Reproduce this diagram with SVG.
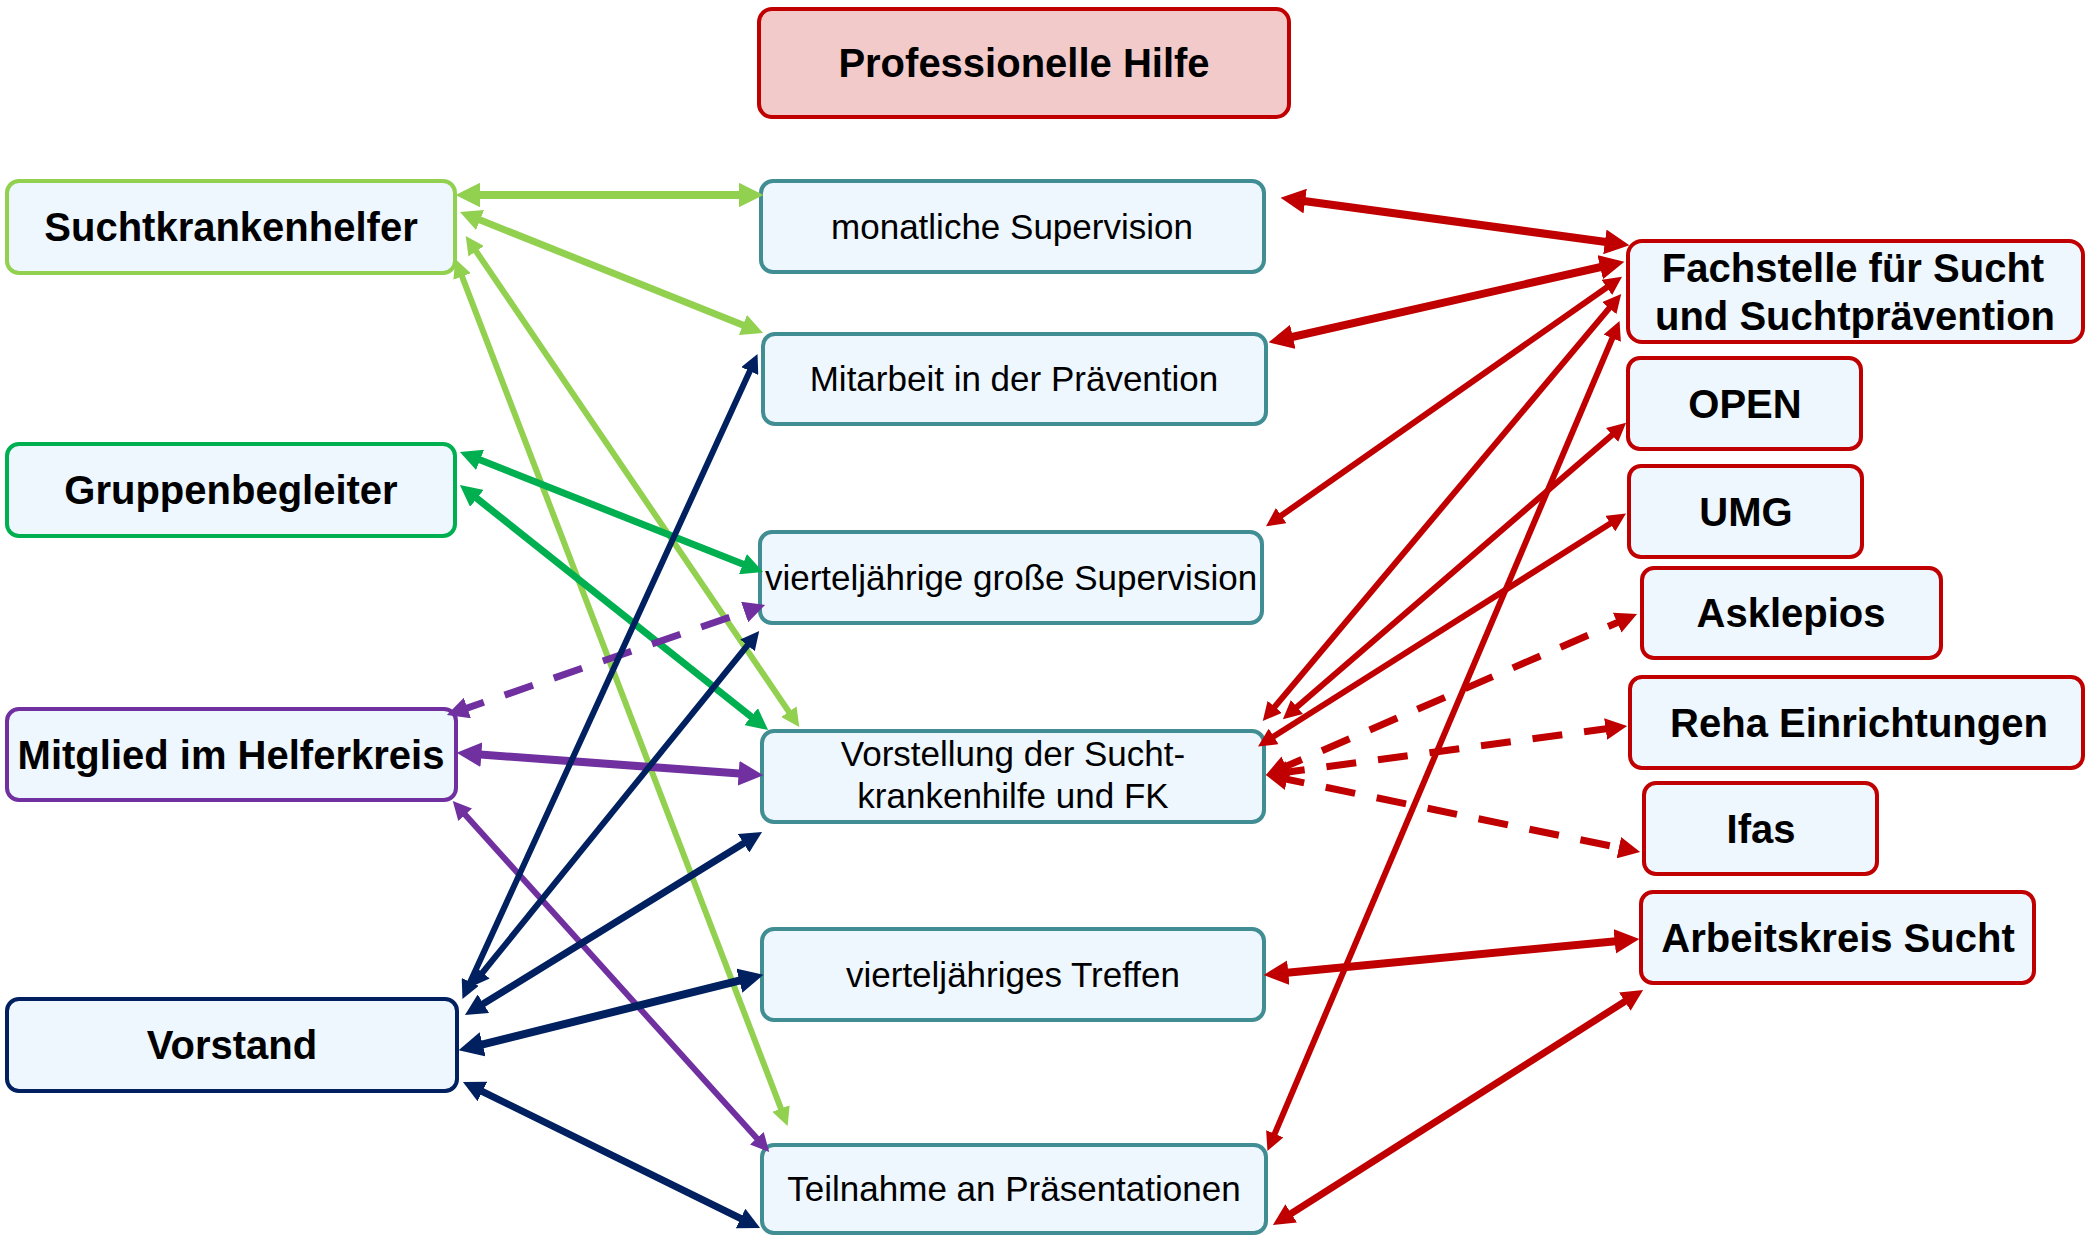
<svg xmlns="http://www.w3.org/2000/svg" width="2085" height="1236" viewBox="0 0 2085 1236">
<style>
.n{fill:#EEF6FE;stroke-width:4}
.teal{stroke:#408E93}
.red{stroke:#C00000}
.lg{stroke:#92D050}
.dg{stroke:#00B050}
.pu{stroke:#7030A0}
.nv{stroke:#002060}
.b{font-family:"Liberation Sans",Arial,sans-serif;font-weight:bold;font-size:40px;fill:#000;text-anchor:middle}
.r{font-family:"Liberation Sans",Arial,sans-serif;font-size:35px;fill:#000;text-anchor:middle}
.e{fill:none;stroke-width:6}
.m{stroke-width:7}
.t{stroke-width:8}
.d{stroke-dasharray:30 22}
.elg{stroke:#92D050;marker-start:url(#mlg);marker-end:url(#mlg)}
.edg{stroke:#00B050;marker-start:url(#mdg);marker-end:url(#mdg)}
.epu{stroke:#7030A0;marker-start:url(#mpu);marker-end:url(#mpu)}
.env{stroke:#002060;marker-start:url(#mnv);marker-end:url(#mnv)}
.ered{stroke:#C00000;marker-start:url(#mred);marker-end:url(#mred)}
</style>
<defs>
<marker id="mlg" viewBox="0 0 10 10" refX="5.8" refY="5" markerWidth="3.1" markerHeight="3.1" orient="auto-start-reverse" markerUnits="strokeWidth"><path d="M0,0 L10,5 L0,10 z" fill="#92D050"/></marker>
<marker id="mdg" viewBox="0 0 10 10" refX="5.8" refY="5" markerWidth="3.1" markerHeight="3.1" orient="auto-start-reverse" markerUnits="strokeWidth"><path d="M0,0 L10,5 L0,10 z" fill="#00B050"/></marker>
<marker id="mpu" viewBox="0 0 10 10" refX="5.8" refY="5" markerWidth="3.1" markerHeight="3.1" orient="auto-start-reverse" markerUnits="strokeWidth"><path d="M0,0 L10,5 L0,10 z" fill="#7030A0"/></marker>
<marker id="mnv" viewBox="0 0 10 10" refX="5.8" refY="5" markerWidth="3.1" markerHeight="3.1" orient="auto-start-reverse" markerUnits="strokeWidth"><path d="M0,0 L10,5 L0,10 z" fill="#002060"/></marker>
<marker id="mred" viewBox="0 0 10 10" refX="5.8" refY="5" markerWidth="3.1" markerHeight="3.1" orient="auto-start-reverse" markerUnits="strokeWidth"><path d="M0,0 L10,5 L0,10 z" fill="#C00000"/></marker>
</defs>
<rect width="2085" height="1236" fill="#FFFFFF"/>

<g id="professionelle-hilfe"><rect x="759" y="9" width="530" height="108" rx="13" fill="#F2CACA" stroke="#C00000" stroke-width="4"/><text class="b" x="1024" y="77">Professionelle Hilfe</text></g>

<g id="suchtkrankenhelfer"><rect class="n lg" x="7" y="181" width="448" height="92" rx="12"/><text class="b" x="231" y="241">Suchtkrankenhelfer</text></g>
<g id="gruppenbegleiter"><rect class="n dg" x="7" y="444" width="448" height="92" rx="12"/><text class="b" x="231" y="504">Gruppenbegleiter</text></g>
<g id="mitglied"><rect class="n pu" x="7" y="709" width="449" height="91" rx="12"/><text class="b" x="231" y="769">Mitglied im Helferkreis</text></g>
<g id="vorstand"><rect class="n nv" x="7" y="999" width="450" height="92" rx="12"/><text class="b" x="232" y="1059">Vorstand</text></g>

<g id="monatliche-supervision"><rect class="n teal" x="761" y="181" width="503" height="91" rx="12"/><text class="r" x="1012" y="239">monatliche Supervision</text></g>
<g id="mitarbeit"><rect class="n teal" x="763" y="334" width="503" height="90" rx="12"/><text class="r" x="1014" y="391">Mitarbeit in der Prävention</text></g>
<g id="grosse-supervision"><rect class="n teal" x="760" y="532" width="502" height="91" rx="12"/><text class="r" x="1011" y="590">vierteljährige große Supervision</text></g>
<g id="vorstellung"><rect class="n teal" x="762" y="731" width="502" height="91" rx="12"/><text class="r" x="1013" y="766">Vorstellung der Sucht-</text><text class="r" x="1013" y="808">krankenhilfe und FK</text></g>
<g id="treffen"><rect class="n teal" x="762" y="929" width="502" height="91" rx="12"/><text class="r" x="1013" y="987">vierteljähriges Treffen</text></g>
<g id="teilnahme"><rect class="n teal" x="762" y="1145" width="504" height="88" rx="12"/><text class="r" x="1014" y="1201">Teilnahme an Präsentationen</text></g>

<g id="fachstelle"><rect class="n red" x="1628" y="241" width="455" height="101" rx="14"/><text class="b" x="1853" y="282">Fachstelle für Sucht</text><text class="b" x="1855" y="330">und Suchtprävention</text></g>
<g id="open"><rect class="n red" x="1628" y="358" width="233" height="91" rx="12"/><text class="b" x="1745" y="418">OPEN</text></g>
<g id="umg"><rect class="n red" x="1629" y="466" width="233" height="91" rx="12"/><text class="b" x="1746" y="526">UMG</text></g>
<g id="asklepios"><rect class="n red" x="1642" y="568" width="299" height="90" rx="12"/><text class="b" x="1791" y="627">Asklepios</text></g>
<g id="reha"><rect class="n red" x="1630" y="677" width="453" height="91" rx="12"/><text class="b" x="1859" y="737">Reha Einrichtungen</text></g>
<g id="ifas"><rect class="n red" x="1644" y="783" width="233" height="91" rx="12"/><text class="b" x="1761" y="843">Ifas</text></g>
<g id="arbeitskreis"><rect class="n red" x="1641" y="892" width="393" height="91" rx="12"/><text class="b" x="1838" y="952">Arbeitskreis Sucht</text></g>

<g id="connectors">
<path class="e t elg" d="M466,195 L753,195"/>
<path class="e m elg" d="M468.4,215.3 L754.6,329.7"/>
<path class="e elg" d="M470.1,242.4 L794.9,720.6"/>
<path class="e elg" d="M458.2,266.4 L784.8,1118.6"/>
<path class="e m edg" d="M468.4,455.3 L754.6,568.7"/>
<path class="e m edg" d="M467,490.6 L761,724.4"/>
<path class="e m d epu" d="M455.5,712.1 L756.5,607.9"/>
<path class="e t epu" d="M467,753.6 L753,774.4"/>
<path class="e epu" d="M458,806.7 L764,1146.3"/>
<path class="e env" d="M465.7,991.8 L754.3,361.2"/>
<path class="e env" d="M475.7,981 L754.3,637"/>
<path class="e m env" d="M472.7,1010.3 L754.3,836.7"/>
<path class="e t env" d="M468.7,1047.8 L753.3,977.2"/>
<path class="e m env" d="M471.1,1086 L751.9,1224"/>
<path class="e t ered" d="M1290.9,199.2 L1619.1,243.8"/>
<path class="e t ered" d="M1278.8,340 L1614.2,264"/>
<path class="e ered" d="M1272.4,521.8 L1615.6,281.2"/>
<path class="e ered" d="M1267.8,715.1 L1616.2,299.9"/>
<path class="e ered" d="M1288.8,714.1 L1620.2,427.9"/>
<path class="e ered" d="M1264.6,742.2 L1619.4,517.8"/>
<path class="e ered" d="M1270.5,1143.7 L1616.5,328.3"/>
<path class="e m d ered" d="M1274.3,771.4 L1628.7,617.6"/>
<path class="e m d ered" d="M1274.9,773.8 L1618.1,727.2"/>
<path class="e m d ered" d="M1274.8,776.8 L1631.2,850.2"/>
<path class="e t ered" d="M1274,974.1 L1629,939.9"/>
<path class="e m ered" d="M1280.6,1220.2 L1635.4,994.8"/>
</g>
</svg>
